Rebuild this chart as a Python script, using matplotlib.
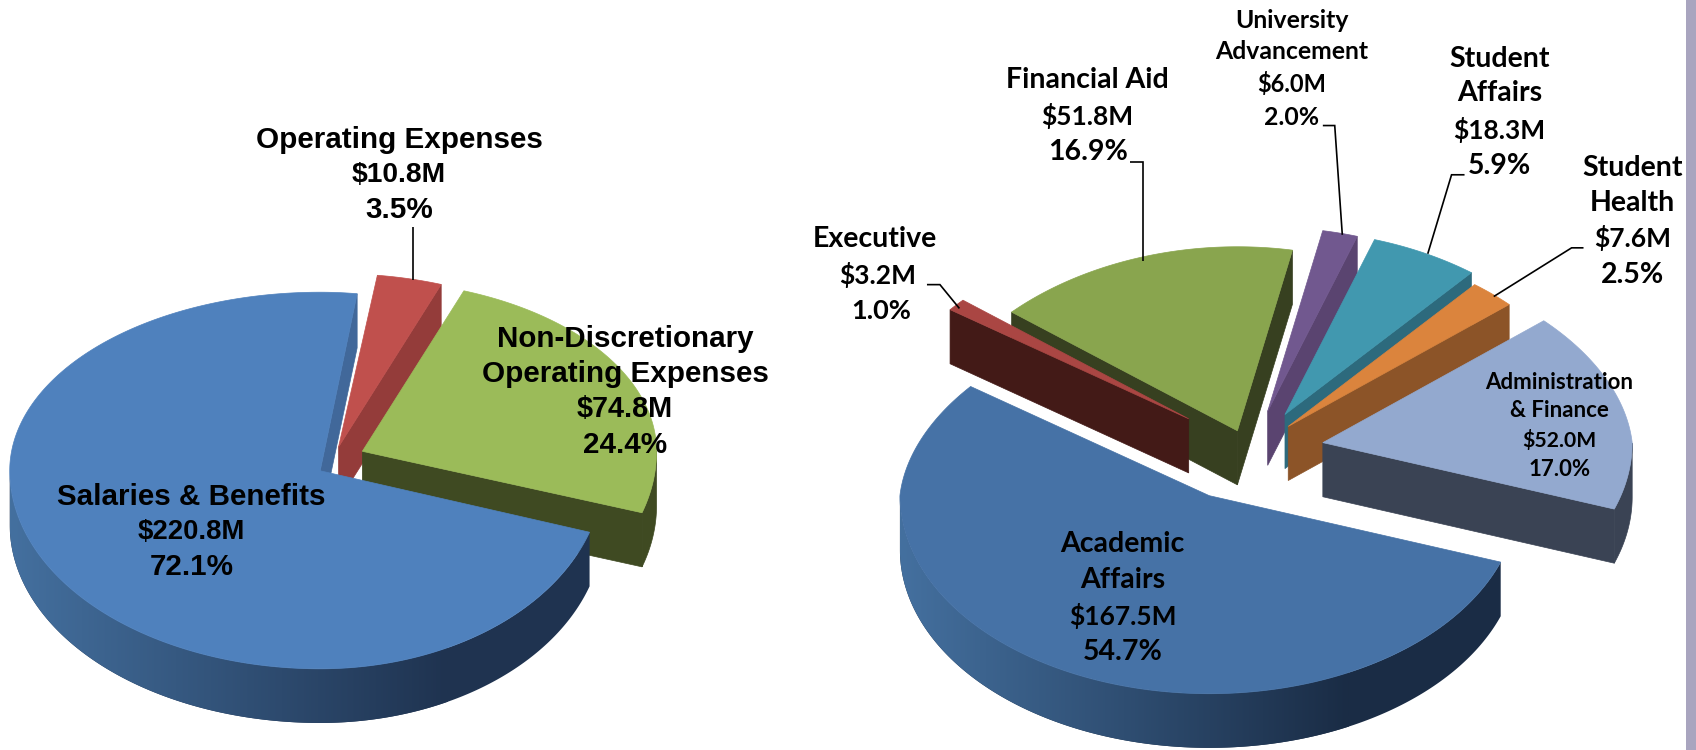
import numpy as np
import matplotlib
matplotlib.use("Agg")
import matplotlib.pyplot as plt
from matplotlib.colors import LinearSegmentedColormap
from matplotlib.patches import Polygon, Rectangle

# --- data ---
left_names = ["Salaries & Benefits", "Operating Expenses", "Non-Discretionary\nOperating Expenses"]
left_money = [220.8, 10.8, 74.8]
left_pct = [72.1, 3.5, 24.4]

right_names = ["Academic\nAffairs", "Executive", "Financial Aid", "University\nAdvancement",
               "Student\nAffairs", "Student\nHealth", "Administration\n& Finance"]
right_money = [167.5, 3.2, 51.8, 6.0, 18.3, 7.6, 52.0]
right_pct = [54.7, 1.0, 16.9, 2.0, 5.9, 2.5, 17.0]

# --- layout, in pixels of a 1568 wide canvas ---
W, H = 1568, 693
DEPTH = 50

left_style = dict(
    start=82.5, narrow=0.0,
    sizes=[(287, 262, 165, 183), (287, 275, 160, 183), (287, 272, 158, 183)],
    apex=[(296, 435), (313, 413), (335, 417)],
    top=["#4f81bd", "#c0504d", "#9bbb59"],
    cut=["#41689a", "#943c3a", "#3f4a22"],
    wall=[("#44709f", "#1f3350"), ("#943c3a", "#943c3a"), ("#3f4a22", "#3f4a22")],
    order=[1, 2, 0],
)
right_style = dict(
    start=143.6, narrow=0.07,
    sizes=[(286, 286, 170, 183)] * 7,
    apex=[(1118, 458), (1099, 387), (1144, 398), (1172, 380), (1188, 383), (1191, 394), (1223, 409)],
    top=["#4672a6", "#aa4643", "#89a54e", "#71588f", "#4198af", "#db843d", "#93a9cf"],
    cut=["#3a5f8a", "#431a17", "#374020", "#5a4470", "#2d6a7d", "#8c5428", "#3a4354"],
    wall=[("#44709f", "#1a2c45"), ("#431a17", "#431a17"), ("#374020", "#374020"), ("#5a4470", "#5a4470"),
          ("#2d6a7d", "#2d6a7d"), ("#8c5428", "#8c5428"), ("#3a4354", "#3a4354")],
    order=[3, 2, 1, 4, 5, 6, 0],
)


def project(apex, sizes, deg, narrow):
    al, ar, bt, bb = sizes
    t = np.radians(deg)
    u, v = np.cos(t), np.sin(t)
    # the far side of the disc is drawn a bit narrower
    x = apex[0] + np.where(u < 0, al, ar) * u * (1 - narrow * np.clip(v, 0, 1))
    y = apex[1] - np.where(v > 0, bt, bb) * v
    return x, y


def slice_angles(values, start):
    # first slice runs counter clockwise from start, the others follow clockwise before start
    sweeps = np.array(values, dtype=float) / np.sum(values) * 360
    res = [(start, start + sweeps[0])]
    hi = start
    for s in sweeps[1:]:
        res.append((hi - s, hi))
        hi -= s
    return res


def cut_face(ax, apex, sizes, deg, narrow, color, z):
    x, y = project(apex, sizes, deg, narrow)
    x, y = float(x), float(y)
    ax.add_patch(Polygon([apex, (x, y), (x, y + DEPTH), (apex[0], apex[1] + DEPTH)],
                         fc=color, ec=color, lw=0.5, zorder=z))


def draw_pie(ax, values, st, z):
    angles = slice_angles(values, st["start"])
    narrow = st["narrow"]
    for i in st["order"]:
        lo, hi = angles[i]
        apex, sizes = st["apex"][i], st["sizes"][i]
        # cut faces turned to the viewer
        if np.cos(np.radians(lo)) > 0:
            cut_face(ax, apex, sizes, lo, narrow, st["cut"][i], z)
            z += 1
        if np.cos(np.radians(hi)) < 0:
            cut_face(ax, apex, sizes, hi, narrow, st["cut"][i], z)
            z += 1
        # outer wall, front half only
        deg = np.linspace(lo, hi, 400)
        deg = deg[np.sin(np.radians(deg)) < 0]
        if len(deg) > 1:
            x, y = project(apex, sizes, deg, narrow)
            pts = list(zip(x, y)) + list(zip(x[::-1], y[::-1] + DEPTH))
            c0, c1 = st["wall"][i]
            if c0 == c1:
                ax.add_patch(Polygon(pts, fc=c0, ec=c0, lw=0.5, zorder=z))
            else:
                cm = LinearSegmentedColormap.from_list("w", [c0, c1])
                x0, x1 = apex[0] - sizes[0], apex[0] + sizes[1] * 0.45
                grad = np.linspace(0, 1, 256).reshape(1, -1)
                im = ax.imshow(grad, cmap=cm, extent=(x0, x1, H, 0), aspect="auto", zorder=z)
                im.set_clip_path(Polygon(pts, transform=ax.transData))
                # the part right of the gradient stays dark
                ax.add_patch(Polygon(pts, fc=c1, ec="none", zorder=z - 0.5))
            z += 1
        # top face
        deg = np.linspace(lo, hi, 400)
        x, y = project(apex, sizes, deg, narrow)
        pts = [apex] + list(zip(x, y))
        ax.add_patch(Polygon(pts, fc=st["top"][i], ec=st["top"][i], lw=0.5, zorder=z))
        z += 1
    return z


def label(ax, x, ys, lines, fam, size, money_size=None):
    for y, t in zip(ys, lines):
        s = money_size if (money_size and t.startswith("$")) else size
        ax.text(x, y, t, ha="center", va="center", family=fam, fontweight="bold", fontsize=s,
                color="#000000", zorder=500)


def leader(ax, xs, ys):
    ax.plot(xs, ys, color="black", lw=1.2, zorder=400, solid_capstyle="butt", solid_joinstyle="miter")


fig = plt.figure(figsize=(16.96, 7.5), dpi=100, facecolor="white")
ax = fig.add_axes([0, 0, 1, 1])

z = draw_pie(ax, left_money, left_style, 10)
draw_pie(ax, right_money, right_style, z)

ax.set_xlim(0, W)
ax.set_ylim(H, 0)
ax.axis("off")

ax.add_patch(Rectangle((1559, 0), 9, H, fc="#a9a5bf", ec="none", zorder=1))

# --- leaders ---
leader(ax, [382, 382], [209.5, 259])
leader(ax, [857, 869, 887], [263, 263, 285])
leader(ax, [1045, 1057, 1057], [149.5, 149.5, 241])
leader(ax, [1223, 1234, 1241], [116, 116, 217])
leader(ax, [1354, 1342, 1320], [161.5, 161.5, 234.5])
leader(ax, [1464, 1453, 1381], [229, 229, 274])


def money(v):
    return f"${v:.1f}M"


def pct(v):
    return f"{v:.1f}%"


# --- left labels ---
ARIAL = "Liberation Sans"
label(ax, 177, [459, 491.5, 524], [left_names[0], money(left_money[0]), pct(left_pct[0])], ARIAL, 21.3, 19.8)
label(ax, 369, [129, 161.5, 194], [left_names[1], money(left_money[1]), pct(left_pct[1])], ARIAL, 21.3, 20.3)
a, b = left_names[2].split("\n")
label(ax, 578, [313, 345.5, 378, 411], [a, b, money(left_money[2]), pct(left_pct[2])], ARIAL, 21.3, 20.8)

# --- right labels ---
LATO = "Lato"
a, b = right_names[0].split("\n")
label(ax, 1038, [503, 536, 569.5, 602], [a, b, money(right_money[0]), pct(right_pct[0])], LATO, 20.5, 19)
label(ax, 809, [221], [right_names[1]], LATO, 20.5)
label(ax, 811, [254], [money(right_money[1])], LATO, 19)
label(ax, 815, [287], [pct(right_pct[1])], LATO, 19.5)
label(ax, 1005.5, [74, 107, 140.5], [right_names[2], money(right_money[2]), pct(right_pct[2])], LATO, 20.5, 19)
a, b = right_names[3].split("\n")
label(ax, 1194, [19, 48, 77.5, 109], [a, b, money(right_money[3]), pct(right_pct[3])], LATO, 17.8, 17)
a, b = right_names[4].split("\n")
label(ax, 1386.5, [54.5, 86, 120, 153.5], [a, b, money(right_money[4]), pct(right_pct[4])], LATO, 20.5, 19)
a, b = right_names[5].split("\n")
label(ax, 1509.5, [155, 188, 220, 254], [a, b, money(right_money[5]), pct(right_pct[5])], LATO, 20.5, 19)
a, b = right_names[6].split("\n")
label(ax, 1441.5, [353, 379.5, 407, 433.5], [a, b, money(right_money[6]), pct(right_pct[6])], LATO, 16, 15.2)

fig.savefig("out.png", dpi=100)
